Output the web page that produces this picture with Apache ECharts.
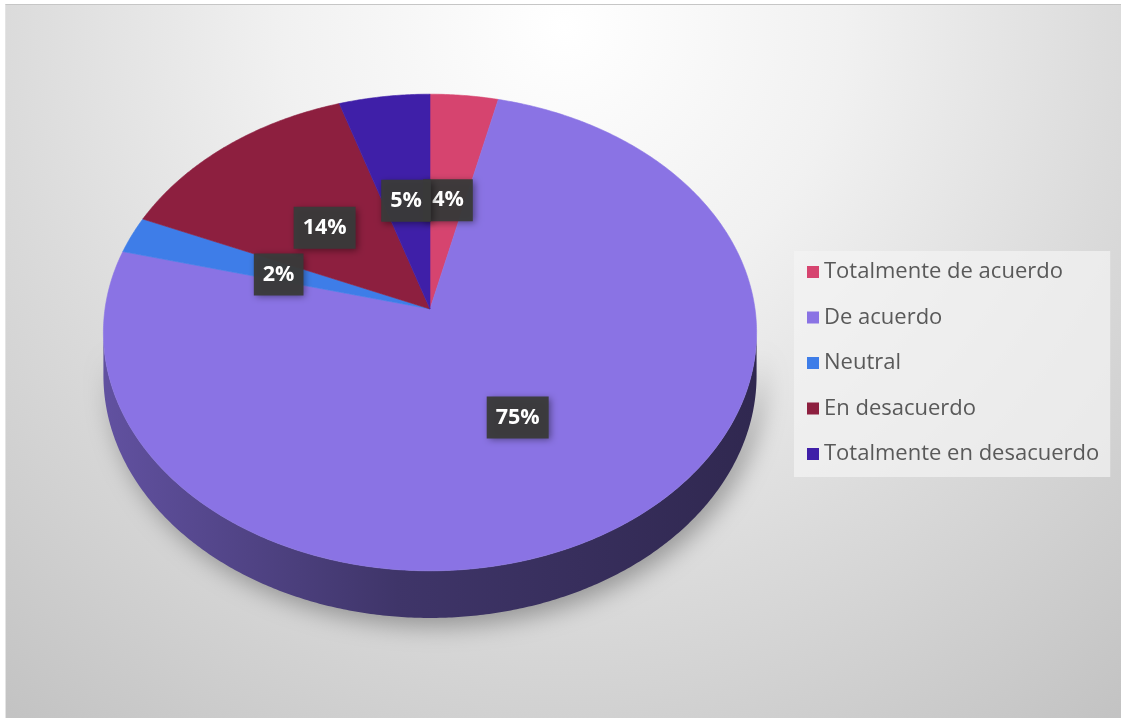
<!DOCTYPE html>
<html><head><meta charset="utf-8">
<script src="https://cdn.jsdelivr.net/npm/echarts@6/dist/echarts.min.js"></script>
<style>
html,body{margin:0;padding:0;background:#fff;overflow:hidden;width:1121px;height:718px}
#c{position:absolute;left:5px;top:4px;width:1116px;height:714px;border-top:1px solid #c6c6c6;border-left:1px solid #e4e4e4;box-sizing:border-box}
</style>
</head><body><div id="c"></div>
<script>
// ---- data ----
const categories = ['Totalmente de acuerdo', 'De acuerdo', 'Neutral', 'En desacuerdo', 'Totalmente en desacuerdo'];
const values = [3.70, 75.31, 2.47, 13.58, 4.94];
const colors = ['#d6446f', '#8a73e4', '#3e7de8', '#8d1f3f', '#3f1fa8'];

// ---- geometry (3D perspective pie) ----
const total = values.reduce((a, b) => a + b, 0);
const startFrac = [];
let acc = 0;
values.forEach(v => { startFrac.push(acc / total); acc += v; });

function shade(hex, f) {
  const n = parseInt(hex.slice(1), 16);
  const r = Math.round(((n >> 16) & 255) * f), g = Math.round(((n >> 8) & 255) * f), b = Math.round((n & 255) * f);
  return 'rgb(' + r + ',' + g + ',' + b + ')';
}

const CX = 424, CY = 304, RX = 325, RY = 236, K = 0.0986, DEPTH = 42.5;
function proj(theta, r) {
  const u = r * Math.sin(theta), v = r * Math.cos(theta), w = 1 + K * v;
  return [CX + RX * u / w, CY - RY * v / w];
}
function depthAt(theta) { return DEPTH / (1 + K * Math.cos(theta)); }
const WALL_A = Math.acos(-K), WALL_B = 2 * Math.PI - WALL_A;
function arcPts(a, b, down) {
  const n = Math.max(2, Math.ceil((b - a) / (Math.PI / 360)));
  const pts = [];
  for (let i = 0; i <= n; i++) {
    const t = a + (b - a) * i / n;
    const p = proj(t, 1);
    if (down) p[1] += depthAt(t);
    pts.push(p);
  }
  return pts;
}

function renderItem(params, api) {
  const i = params.seriesIndex;
  const val = api.value(0);
  const a = startFrac[i] * 2 * Math.PI;
  const b = a + val / total * 2 * Math.PI;
  const color = colors[i];
  const children = [];
  const wa = Math.max(a, WALL_A), wb = Math.min(b, WALL_B);
  if (wb > wa) {
    const top = arcPts(wa, wb, false);
    const bot = arcPts(wa, wb, true).reverse();
    children.push({
      type: 'polygon', z2: 0,
      shape: { points: top.concat(bot) },
      style: {
        fill: new echarts.graphic.LinearGradient(CX - RX, 0, CX + RX, 0, [
          { offset: 0, color: shade(color, 0.70) },
          { offset: 0.45, color: shade(color, 0.46) },
          { offset: 1, color: shade(color, 0.35) }
        ], true),
        shadowBlur: 24, shadowColor: 'rgba(0,0,0,0.32)', shadowOffsetX: 6, shadowOffsetY: 8
      }
    });
  }
  const face = [proj(0, 0)].concat(arcPts(a, b, false));
  children.push({
    type: 'polygon', z2: 10,
    shape: { points: face },
    style: { fill: color, stroke: color, lineWidth: 0.6 }
  });
  const mid = (a + b) / 2;
  const lp = proj(mid, 0.5);
  children.push({
    type: 'text', z2: 100 + i,
    x: lp[0], y: lp[1] + 3,
    style: {
      text: Math.round(val / total * 100) + '%',
      fill: '#ffffff',
      fontFamily: 'Open Sans', fontWeight: 'bold', fontSize: 21.5,
      align: 'center', verticalAlign: 'middle',
      lineHeight: 26,
      backgroundColor: 'rgba(58,58,58,0.96)',
      padding: [8, 9, 8, 9],
      shadowBlur: 7, shadowColor: 'rgba(0,0,0,0.45)', shadowOffsetX: 2, shadowOffsetY: 2
    }
  });
  return { type: 'group', children };
}

const chart = echarts.init(document.getElementById('c'), null, { renderer: 'canvas' });
chart.setOption({
  animation: false,
  graphic: [{
    type: 'rect', z: -10, silent: true,
    shape: { x: 0, y: 0, width: 1116, height: 714 },
    style: {
      fill: new echarts.graphic.RadialGradient(0.5, 0.03, 1.3, [
        { offset: 0, color: '#ffffff' },
        { offset: 0.3, color: '#f1f1f1' },
        { offset: 0.6, color: '#dbdbdb' },
        { offset: 0.95, color: '#c3c3c3' }
      ])
    }
  }],
  legend: {
    orient: 'vertical', left: 788, top: 246,
    icon: 'rect', itemWidth: 12, itemHeight: 12, itemGap: 23.5,
    data: categories,
    backgroundColor: 'rgba(244,244,244,0.7)',
    padding: [10, 11, 12, 13],
    textStyle: { fontFamily: 'Open Sans', fontSize: 22, color: '#595959', lineHeight: 22 }
  },
  series: categories.map((name, i) => ({
    type: 'custom', name: name,
    coordinateSystem: 'none',
    itemStyle: { color: colors[i] },
    data: [[values[i]]],
    renderItem: renderItem
  }))
});
</script>
</body></html>
